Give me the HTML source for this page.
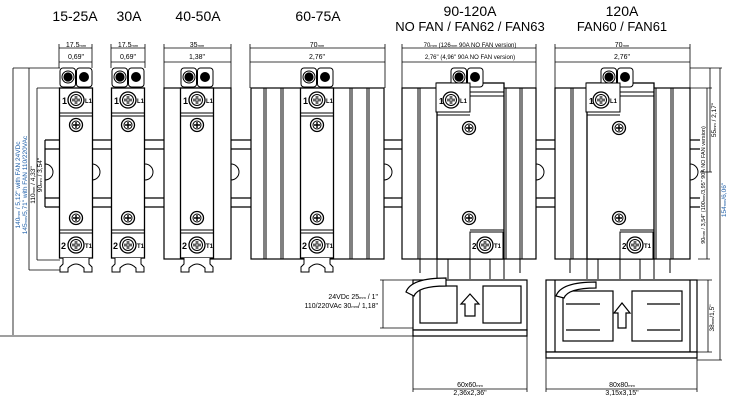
<!DOCTYPE html>
<html><head><meta charset="utf-8"><style>
html,body{margin:0;padding:0;background:#fff;}
svg{display:block;font-family:"Liberation Sans",Arial,sans-serif;}
</style></head><body>
<svg width="755" height="406" viewBox="0 0 755 406" xmlns="http://www.w3.org/2000/svg">
<defs>
<g id="scr"><circle r="6.5" fill="#fff" stroke="#000" stroke-width="1.3"/><circle r="4" fill="none" stroke="#000" stroke-width="1"/><path d="M-3 0H3M0 -3V3" stroke="#000" stroke-width="1.4"/></g>
<g id="bigscr"><circle r="8" fill="#fff" stroke="#000" stroke-width="1.3"/><circle r="5.5" fill="none" stroke="#000"/><path d="M-4 0H4M0 -4V4" stroke="#000" stroke-width="2.5"/><path d="M-4 0H4M0 -4V4" stroke="#fff" stroke-width="0.8"/></g>
<g id="term"><rect x="-16" y="0" width="15.5" height="19" rx="3" fill="#fff" stroke="#000"/><rect x="0.5" y="0" width="15.5" height="19" rx="3" fill="#fff" stroke="#000"/><circle cx="-8" cy="9" r="6" fill="#fff" stroke="#000"/><circle cx="-8" cy="9" r="4.6" fill="#000"/><circle cx="8" cy="9" r="5" fill="#000"/></g>
<g id="mod">
 <use href="#term" y="68"/>
 <rect x="-16.5" y="88" width="33" height="170" fill="#fff" stroke="#000" stroke-width="1.3"/>
 <path d="M-16.5 113H16.5M-16.5 116H16.5M-16.5 230H16.5M-16.5 233H16.5" stroke="#000"/>
 <use href="#bigscr" x="0" y="100"/><text x="-14" y="104" font-size="9" font-weight="bold">1</text><text x="9" y="103" font-size="6" font-weight="bold">L1</text>
 <use href="#scr" x="0" y="125"/><use href="#scr" x="0" y="218"/>
 <use href="#bigscr" x="0" y="245"/><text x="-15" y="249" font-size="9" font-weight="bold">2</text><text x="9" y="248" font-size="6" font-weight="bold">T1</text>
 <path d="M-13 258v6l-3 3v5h8v-4q8-8 16 0v4h8v-5l-3-3v-6" fill="#fff" stroke="#000"/>
</g>
<g id="notch"><path d="M0 164a8 8 0 0 1 0 16" fill="none" stroke="#000"/></g>
</defs>

<g font-size="14" text-anchor="middle" fill="#000">
<text x="75" y="21">15-25A</text><text x="129" y="21">30A</text><text x="198" y="21">40-50A</text><text x="318" y="21">60-75A</text>
<text x="470" y="16">90-120A</text><text x="470" y="31" font-size="13">NO FAN / FAN62 / FAN63</text>
<text x="622" y="16">120A</text><text x="622" y="31" font-size="13">FAN60 / FAN61</text>
</g>

<g stroke="#000" stroke-width="1.2" fill="none">
<path d="M45 140H700M45 149H700M45 198H700M45 207H700M45 140V149M45 198V207"/>
<path d="M45 149V198"/>
</g>
<use href="#notch" x="45"/><use href="#notch" x="92"/><use href="#notch" x="145"/><use href="#notch" x="231"/><use href="#notch" x="384"/><use href="#notch" x="536"/><use href="#notch" x="690"/>

<g stroke="#000" stroke-width="0.8" fill="none">
<path d="M59 44V68M92 44V68M111 44V68M145 44V68M164 44V88M231 44V88M250 44V88M385 44V88M402 44V88M536 44V88M555 44V88M690 44V88"/>
<path d="M59 48H92M59 62H92M111 48H145M111 62H145M164 48H231M164 62H231M250 48H385M250 62H385M402 48H536M402 62H536M555 48H690M555 62H690"/>
</g>
<g font-size="7" text-anchor="middle">
<text x="76" y="47">17.5<tspan font-size="4">mm</tspan></text><text x="76" y="59">0,69"</text>
<text x="128" y="47">17.5<tspan font-size="4">mm</tspan></text><text x="128" y="59">0,69"</text>
<text x="197" y="47">35<tspan font-size="4">mm</tspan></text><text x="197" y="59">1,38"</text>
<text x="317" y="47">70<tspan font-size="4">mm</tspan></text><text x="317" y="59">2,76"</text>
<text x="470" y="47" font-size="6">70<tspan font-size="4">mm</tspan> (126<tspan font-size="4">mm</tspan> 90A NO FAN version)</text>
<text x="470" y="59" font-size="6">2,76" (4,96" 90A NO FAN version)</text>
<text x="622" y="47">70<tspan font-size="4">mm</tspan></text><text x="622" y="59">2,76"</text>
</g>

<g stroke="#000" stroke-width="1.2" fill="#fff">
<rect x="164" y="88" width="67" height="171"/>
<rect x="251" y="88" width="133" height="171"/>
<rect x="402" y="88" width="134" height="171"/>
<rect x="555" y="88" width="135" height="171"/>
</g>
<g stroke="#000" stroke-width="1" fill="none">
<path d="M264 88V259M266 88V259M281 88V259M283 88V259M350 88V259M352 88V259M367 88V259M369 88V259"/>
<path d="M418 88V259M420 88V259M504 88V259M506 88V259M520 88V259M522 88V259"/>
<path d="M571 88V259M573 88V259M654 88V259M656 88V259M671 88V259M673 88V259"/>
</g>

<use href="#mod" x="76"/><use href="#mod" x="128"/><use href="#mod" x="197"/><use href="#mod" x="317"/>

<g id="big">
<rect x="437" y="83" width="67" height="176" fill="#fff" stroke="#000" stroke-width="1.3"/>
<path d="M470 88V112M470 92H504M470 96H504" stroke="#000"/>
<use href="#term" x="467" y="68"/>
<rect x="436" y="83" width="34" height="29" fill="#fff" stroke="#000"/>
<path d="M437 112H470M437 115H470M470 230H504" stroke="#000"/>
<use href="#bigscr" x="451" y="100"/><text x="439" y="104" font-size="8" font-weight="bold">1</text><text x="460" y="103" font-size="6" font-weight="bold">L1</text>
<use href="#scr" x="469" y="128"/><use href="#scr" x="469" y="218"/>
<rect x="470" y="232" width="33" height="27" fill="#fff" stroke="#000"/>
<use href="#bigscr" x="485" y="245"/><text x="472" y="249" font-size="8" font-weight="bold">2</text><text x="494" y="248" font-size="6" font-weight="bold">T1</text>
<path d="M420 259v14M437 259v20M448 259v20M470 259v20M490 259v20M504 259v20M520 259v14" stroke="#000"/>
</g>
<use href="#big" x="150"/>

<g stroke="#000" stroke-width="1.2" fill="#fff">
<rect x="413" y="280" width="114" height="50"/>
<rect x="420" y="286" width="37" height="37"/>
<rect x="483" y="286" width="38" height="37"/>
<path d="M465 316V304H461L470 294L479 304H475V316Z"/>
<path d="M413 330H527V336H413Z"/>
<path d="M406 292q5-14 40-14v8q-28 0-32 10z"/>
</g>
<g stroke="#000" stroke-width="1.2" fill="#fff">
<rect x="546" y="280" width="151" height="72"/>
<path d="M555 280V352M690 280V352" fill="none"/>
<rect x="563" y="291" width="50" height="50"/>
<rect x="632" y="291" width="50" height="50"/>
<path d="M566 304H600M566 330H600M647 304H680M647 330H680" fill="none"/>
<path d="M618 328V313H614L622 303L630 313H626V328Z"/>
<path d="M546 352H697V358H546Z"/>
<path d="M556 296q5-14 40-14v6q-28 0-32 10z"/>
</g>

<g stroke="#000" stroke-width="0.8" fill="none">
<path d="M0 336H413M380 280H413M380 328H413M383 280V328"/>
<path d="M413 336V392M527 336V392M413 389H527M546 358V392M697 358V392M546 389H697"/>
<path d="M13 68H60M13 68V335M29 68V270M37 88V260M29 270H60M37 260H60M37 88H60"/>
<path d="M690 68H722M690 88H712M710 68V172M700 172H712M707 88V259M698 259H710M720 68V360M697 360H722"/>
<path d="M697 280H712M697 352H712M708 280V352"/>
</g>
<g font-size="7" text-anchor="end">
<text x="378" y="299">24VDc 25<tspan font-size="4">mm</tspan> / 1"</text>
<text x="378" y="308">110/220VAc 30<tspan font-size="4">mm</tspan>/ 1,18"</text>
</g>
<g font-size="7" text-anchor="middle">
<text x="470" y="387">60x60<tspan font-size="4">mm</tspan></text><text x="470" y="395">2,36x2,36"</text>
<text x="622" y="387">80x80<tspan font-size="4">mm</tspan></text><text x="622" y="395">3,15x3,15"</text>
</g>
<g font-size="6.5" text-anchor="middle">
<text transform="translate(20,185) rotate(-90)" fill="#1f5fa8">140<tspan font-size="4">mm</tspan> / 5,12" with FAN 24VDc</text>
<text transform="translate(27,185) rotate(-90)" fill="#1f5fa8">145<tspan font-size="4">mm</tspan>/5,71" with FAN 110/220VAc</text>
<text transform="translate(35,185) rotate(-90)">110<tspan font-size="4">mm</tspan> / 4,33"</text>
<text transform="translate(42,175) rotate(-90)">90<tspan font-size="4">mm</tspan> / 3,54"</text>
<text transform="translate(716,120) rotate(-90)">55<tspan font-size="4">mm</tspan> / 2,17"</text>
<text transform="translate(705,185) rotate(-90)" font-size="5.5">90<tspan font-size="4">mm</tspan> / 3,54" (100<tspan font-size="4">mm</tspan>/3,95" 90A NO FAN version)</text>
<text transform="translate(726,200) rotate(-90)" fill="#1f5fa8">154<tspan font-size="4">mm</tspan>/6,06"</text>
<text transform="translate(714,318) rotate(-90)">38<tspan font-size="4">mm</tspan>/1,5"</text>
</g>
</svg>
</body></html>
